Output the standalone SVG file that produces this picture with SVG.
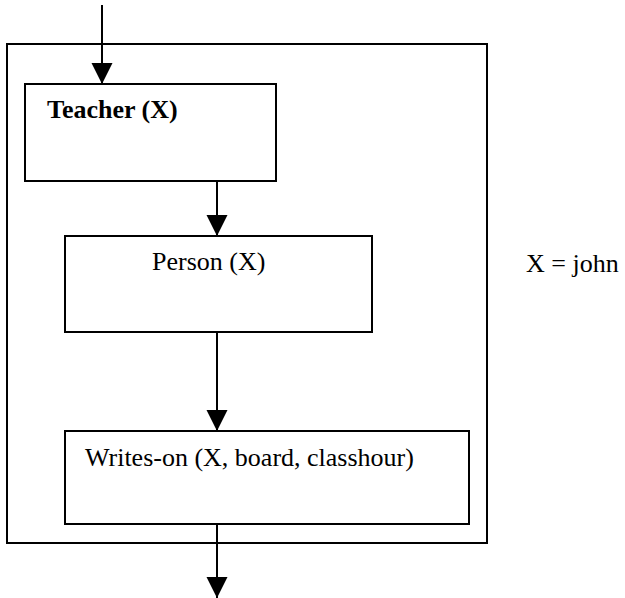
<svg xmlns="http://www.w3.org/2000/svg" width="625" height="598" viewBox="0 0 625 598">
  <style>
    .box { fill: #ffffff; stroke: #000000; stroke-width: 2; }
    .frame { fill: none; stroke: #000000; stroke-width: 2; }
    .conn { fill: none; stroke: #000000; stroke-width: 2; }
    .lbl { font-family: "Liberation Serif", "Times New Roman", serif; font-size: 26px; fill: #000000; }
    .bold { font-weight: bold; }
  </style>
  <defs>
    <marker id="arrow" markerUnits="userSpaceOnUse" markerWidth="22" markerHeight="22" refX="21" refY="10.5" orient="auto">
      <path d="M0,0 L21,10.5 L0,21 Z" fill="#000000"/>
    </marker>
  </defs>
  <rect width="625" height="598" fill="#ffffff"/>
  <g id="frame">
    <rect class="frame" x="7" y="44" width="480" height="499"/>
  </g>
  <g id="teacher">
    <rect class="box" x="25" y="84" width="251" height="97"/>
    <text class="lbl bold" x="47" y="118">Teacher (X)</text>
  </g>
  <g id="person">
    <rect class="box" x="65" y="236" width="307" height="96"/>
    <text class="lbl" x="152" y="270">Person (X)</text>
  </g>
  <g id="writes-on">
    <rect class="box" x="65" y="431" width="404" height="93"/>
    <text class="lbl" x="85" y="466">Writes-on (X, board, classhour)</text>
  </g>
  <g id="binding">
    <text class="lbl" x="526" y="272">X = john</text>
  </g>
  <g id="connectors">
    <line class="conn" x1="102" y1="5" x2="102" y2="84" marker-end="url(#arrow)"/>
    <line class="conn" x1="217" y1="181" x2="217" y2="236" marker-end="url(#arrow)"/>
    <line class="conn" x1="217" y1="332" x2="217" y2="431" marker-end="url(#arrow)"/>
    <line class="conn" x1="217" y1="524" x2="217" y2="598" marker-end="url(#arrow)"/>
  </g>
</svg>
